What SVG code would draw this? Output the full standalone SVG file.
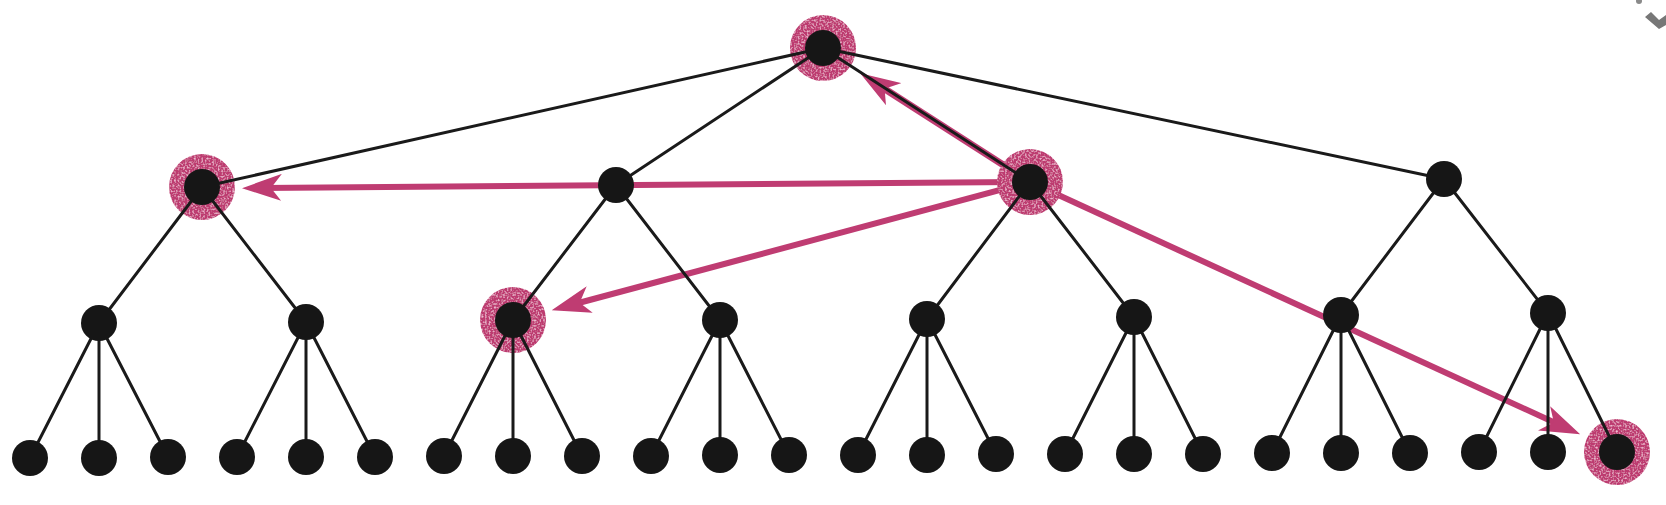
<svg xmlns="http://www.w3.org/2000/svg" width="1666" height="505" viewBox="0 0 1666 505">
<style>
.edge{stroke:#1a1a1a;stroke-width:3;stroke-linecap:round;fill:none}
.arrow{stroke:#bf3c72;stroke-width:6;fill:none}
.node{fill:#161616}
.ring{fill:#bd3a70;filter:url(#speck)}
</style>
<defs>
<filter id="speck" x="0" y="0" width="1" height="1">
<feTurbulence type="fractalNoise" baseFrequency="0.55" numOctaves="1" seed="3" result="n"/>
<feColorMatrix in="n" type="matrix" values="0 0 0 0 0.87  0 0 0 0 0.48  0 0 0 0 0.64  3 0 0 0 -1.4" result="spots"/>
<feComposite in="spots" in2="SourceGraphic" operator="atop"/>
</filter>
<marker id="head" markerUnits="userSpaceOnUse" viewBox="0 0 40 28" markerWidth="40" markerHeight="28" refX="20" refY="14" orient="auto">
<path d="M40,14 L1,1 L11,14 L0,28 Z" fill="#bf3c72"/>
</marker>
</defs>
<rect width="1666" height="505" fill="#ffffff"/>
<g id="connectors">
<g id="arrows">
<line class="arrow" x1="1030" y1="182" x2="262" y2="188" marker-end="url(#head)"/>
<line class="arrow" x1="1030" y1="182" x2="571" y2="305" marker-end="url(#head)"/>
<line class="arrow" x1="1030" y1="182" x2="1562" y2="426" marker-end="url(#head)"/>
<line class="arrow" style="stroke-width:7" x1="1030" y1="182" x2="877" y2="84" marker-end="url(#head)"/>
</g>
<g id="rings">
<circle class="ring" cx="823" cy="48" r="33"/>
<circle class="ring" cx="202" cy="187" r="33"/>
<circle class="ring" cx="1030" cy="182" r="33"/>
<circle class="ring" cx="513" cy="320" r="33"/>
<circle class="ring" cx="1617" cy="452" r="33"/>
</g>
<g id="edges">
<line class="edge" x1="823" y1="48" x2="202" y2="187"/>
<line class="edge" x1="823" y1="48" x2="616" y2="185"/>
<line class="edge" x1="823" y1="48" x2="1030" y2="182"/>
<line class="edge" x1="823" y1="48" x2="1444" y2="179"/>
<line class="edge" x1="202" y1="187" x2="99" y2="323"/>
<line class="edge" x1="202" y1="187" x2="306" y2="322"/>
<line class="edge" x1="616" y1="185" x2="513" y2="320"/>
<line class="edge" x1="616" y1="185" x2="720" y2="320"/>
<line class="edge" x1="1030" y1="182" x2="927" y2="319"/>
<line class="edge" x1="1030" y1="182" x2="1134" y2="317"/>
<line class="edge" x1="1444" y1="179" x2="1341" y2="315"/>
<line class="edge" x1="1444" y1="179" x2="1548" y2="313"/>
<line class="edge" x1="99" y1="323" x2="30" y2="458"/>
<line class="edge" x1="99" y1="323" x2="99" y2="458"/>
<line class="edge" x1="99" y1="323" x2="168" y2="457"/>
<line class="edge" x1="306" y1="322" x2="237" y2="457"/>
<line class="edge" x1="306" y1="322" x2="306" y2="457"/>
<line class="edge" x1="306" y1="322" x2="375" y2="457"/>
<line class="edge" x1="513" y1="320" x2="444" y2="456"/>
<line class="edge" x1="513" y1="320" x2="513" y2="456"/>
<line class="edge" x1="513" y1="320" x2="582" y2="456"/>
<line class="edge" x1="720" y1="320" x2="651" y2="456"/>
<line class="edge" x1="720" y1="320" x2="720" y2="455"/>
<line class="edge" x1="720" y1="320" x2="789" y2="455"/>
<line class="edge" x1="927" y1="319" x2="858" y2="455"/>
<line class="edge" x1="927" y1="319" x2="927" y2="455"/>
<line class="edge" x1="927" y1="319" x2="996" y2="454"/>
<line class="edge" x1="1134" y1="317" x2="1065" y2="454"/>
<line class="edge" x1="1134" y1="317" x2="1134" y2="454"/>
<line class="edge" x1="1134" y1="317" x2="1203" y2="454"/>
<line class="edge" x1="1341" y1="315" x2="1272" y2="453"/>
<line class="edge" x1="1341" y1="315" x2="1341" y2="453"/>
<line class="edge" x1="1341" y1="315" x2="1410" y2="453"/>
<line class="edge" x1="1548" y1="313" x2="1479" y2="452"/>
<line class="edge" x1="1548" y1="313" x2="1548" y2="452"/>
<line class="edge" x1="1548" y1="313" x2="1617" y2="452"/>
</g>
</g>
<g id="root"><circle class="node" cx="823" cy="48" r="18"/></g>
<g id="n1a"><circle class="node" cx="202" cy="187" r="18"/></g>
<g id="n1b"><circle class="node" cx="616" cy="185" r="18"/></g>
<g id="n1c"><circle class="node" cx="1030" cy="182" r="18"/></g>
<g id="n1d"><circle class="node" cx="1444" cy="179" r="18"/></g>
<g id="n2a"><circle class="node" cx="99" cy="323" r="18"/></g>
<g id="n2b"><circle class="node" cx="306" cy="322" r="18"/></g>
<g id="n2c"><circle class="node" cx="513" cy="320" r="18"/></g>
<g id="n2d"><circle class="node" cx="720" cy="320" r="18"/></g>
<g id="n2e"><circle class="node" cx="927" cy="319" r="18"/></g>
<g id="n2f"><circle class="node" cx="1134" cy="317" r="18"/></g>
<g id="n2g"><circle class="node" cx="1341" cy="315" r="18"/></g>
<g id="n2h"><circle class="node" cx="1548" cy="313" r="18"/></g>
<g id="l00"><circle class="node" cx="30" cy="458" r="18"/></g>
<g id="l01"><circle class="node" cx="99" cy="458" r="18"/></g>
<g id="l02"><circle class="node" cx="168" cy="457" r="18"/></g>
<g id="l03"><circle class="node" cx="237" cy="457" r="18"/></g>
<g id="l04"><circle class="node" cx="306" cy="457" r="18"/></g>
<g id="l05"><circle class="node" cx="375" cy="457" r="18"/></g>
<g id="l06"><circle class="node" cx="444" cy="456" r="18"/></g>
<g id="l07"><circle class="node" cx="513" cy="456" r="18"/></g>
<g id="l08"><circle class="node" cx="582" cy="456" r="18"/></g>
<g id="l09"><circle class="node" cx="651" cy="456" r="18"/></g>
<g id="l10"><circle class="node" cx="720" cy="455" r="18"/></g>
<g id="l11"><circle class="node" cx="789" cy="455" r="18"/></g>
<g id="l12"><circle class="node" cx="858" cy="455" r="18"/></g>
<g id="l13"><circle class="node" cx="927" cy="455" r="18"/></g>
<g id="l14"><circle class="node" cx="996" cy="454" r="18"/></g>
<g id="l15"><circle class="node" cx="1065" cy="454" r="18"/></g>
<g id="l16"><circle class="node" cx="1134" cy="454" r="18"/></g>
<g id="l17"><circle class="node" cx="1203" cy="454" r="18"/></g>
<g id="l18"><circle class="node" cx="1272" cy="453" r="18"/></g>
<g id="l19"><circle class="node" cx="1341" cy="453" r="18"/></g>
<g id="l20"><circle class="node" cx="1410" cy="453" r="18"/></g>
<g id="l21"><circle class="node" cx="1479" cy="452" r="18"/></g>
<g id="l22"><circle class="node" cx="1548" cy="452" r="18"/></g>
<g id="l23"><circle class="node" cx="1617" cy="452" r="18"/></g>
<g id="mark">
<path d="M1645,17 L1651,12 L1659,20 L1666,15 L1666,25 L1659,29 Z" fill="#777777"/>
<circle cx="1639" cy="1" r="3" fill="#8a8a8a"/>
</g>
</svg>
